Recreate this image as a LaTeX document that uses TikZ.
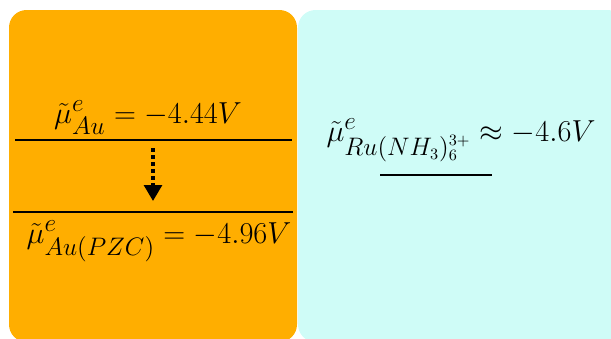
\documentclass[tikz,border=0pt]{standalone}
\usepackage{amsmath}
\usetikzlibrary{arrows.meta,positioning}
\definecolor{Amber}{HTML}{FFAE00}
\definecolor{Mint}{HTML}{CFFCF7}
\tikzset{
 panel/.style={rounded corners=10pt, draw=none},
 level/.style={line width=1.1pt, draw=black},
 eqlabel/.style={inner sep=0pt, font=\fontsize{19}{23}\selectfont},
 droparrow/.style={-{Triangle[width=10pt,length=9pt]}, line width=2pt, dotted, line cap=butt}
}
\begin{document}
\begin{tikzpicture}[x=0.02cm,y=-0.02cm]
\useasboundingbox (0,0) rectangle (611,338);
\fill[panel,Amber] (9,10) rectangle (297,342);
\fill[panel,Mint] (298,10) rectangle (625,342);
% metal side
\coordinate (auL) at (15,140);
\coordinate (auR) at (292,140);
\coordinate (pzcL) at (13,212);
\coordinate (pzcR) at (293,212);
\draw[level] (auL) -- (auR);
\draw[level] (pzcL) -- (pzcR);
\node[eqlabel,anchor=base] (au) at (148,123) {$\tilde{\mu}^{e}_{Au} = -4.44V$};
\node[eqlabel,anchor=base] (pzc) at (159,243) {$\tilde{\mu}^{e}_{Au(PZC)} = -4.96V$};
\coordinate (top) at (153,148);
\coordinate (bot) at (153,201);
\draw[droparrow] (top) -- (bot);
% solution side
\node[eqlabel,anchor=base] (ru) at (461,141) {$\tilde{\mu}^{e}_{Ru(NH_3)_6^{3+}} \approx -4.6V$};
\coordinate (ruL) at (380,175);
\coordinate (ruR) at (492,175);
\draw[level] (ruL) -- (ruR);
\end{tikzpicture}
\end{document}
